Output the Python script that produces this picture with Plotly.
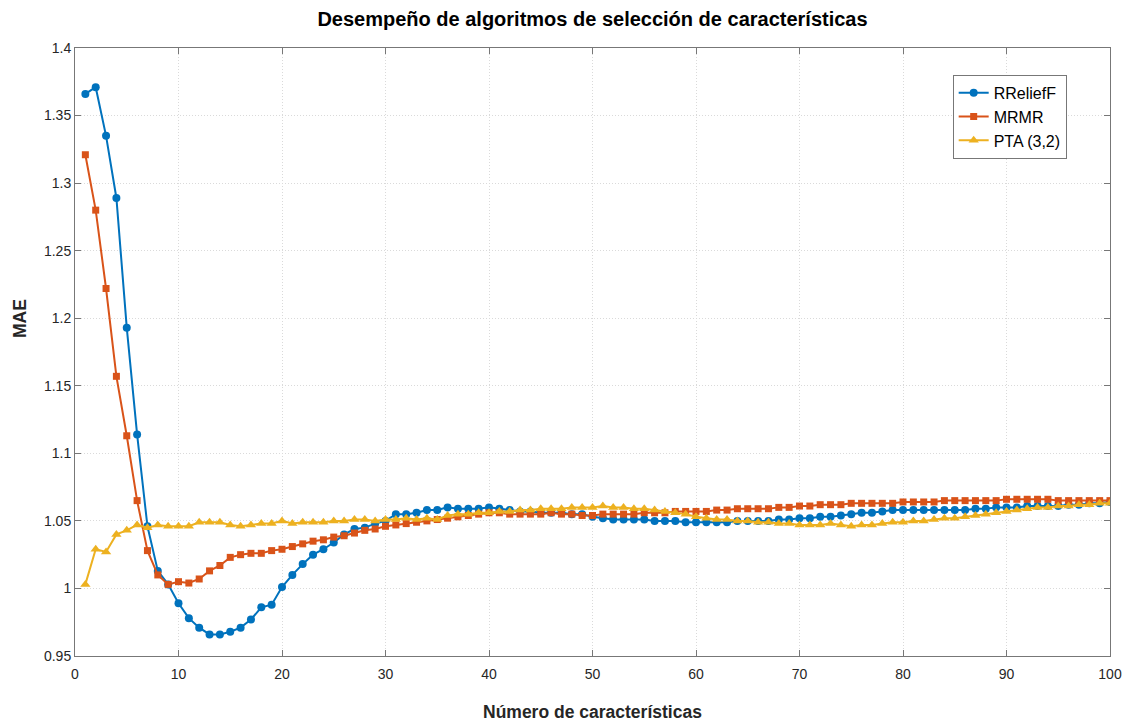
import plotly.graph_objects as go

x_vals = list(range(1, 101))

rrelieff = [
    1.366, 1.371, 1.335, 1.289, 1.193, 1.114, 1.046, 1.013, 1.003, 0.989,
    0.978, 0.971, 0.966, 0.966, 0.968, 0.971, 0.977, 0.986, 0.988, 1.001,
    1.010, 1.018, 1.025, 1.029, 1.034, 1.040, 1.044, 1.045, 1.048, 1.050,
    1.055, 1.055, 1.056, 1.058, 1.058, 1.060, 1.059, 1.059, 1.059, 1.060,
    1.059, 1.058, 1.057, 1.057, 1.056, 1.056, 1.056, 1.055, 1.055, 1.053,
    1.052, 1.051, 1.051, 1.051, 1.051, 1.050, 1.050, 1.050, 1.049, 1.049,
    1.049, 1.049, 1.049, 1.050, 1.050, 1.050, 1.050, 1.051, 1.051, 1.052,
    1.052, 1.053, 1.053, 1.054, 1.055, 1.056, 1.056, 1.057, 1.058, 1.058,
    1.058, 1.058, 1.058, 1.058, 1.058, 1.058, 1.059, 1.059, 1.060, 1.060,
    1.060, 1.061, 1.061, 1.061, 1.061, 1.062, 1.062, 1.063, 1.063, 1.064,
]

mrmr = [
    1.321, 1.280, 1.222, 1.157, 1.113, 1.065, 1.028, 1.010, 1.003, 1.005,
    1.004, 1.007, 1.013, 1.017, 1.023, 1.025, 1.026, 1.026, 1.028, 1.029,
    1.031, 1.033, 1.035, 1.036, 1.038, 1.039, 1.041, 1.043, 1.044, 1.046,
    1.047, 1.048, 1.049, 1.050, 1.051, 1.052, 1.053, 1.054, 1.055, 1.056,
    1.056, 1.055, 1.055, 1.055, 1.055, 1.056, 1.055, 1.055, 1.054, 1.054,
    1.055, 1.055, 1.055, 1.055, 1.056, 1.056, 1.056, 1.057, 1.057, 1.057,
    1.057, 1.058, 1.058, 1.059, 1.059, 1.059, 1.059, 1.060, 1.060, 1.061,
    1.061, 1.062, 1.062, 1.062, 1.063, 1.063, 1.063, 1.063, 1.063, 1.064,
    1.064, 1.064, 1.064, 1.065, 1.065, 1.065, 1.065, 1.065, 1.065, 1.066,
    1.066, 1.066, 1.066, 1.066, 1.065, 1.065, 1.065, 1.065, 1.065, 1.065,
]

pta = [
    1.003, 1.029, 1.027, 1.040, 1.043, 1.047, 1.045, 1.047, 1.046, 1.046,
    1.046, 1.049, 1.049, 1.049, 1.047, 1.046, 1.047, 1.048, 1.048, 1.050,
    1.048, 1.049, 1.049, 1.049, 1.050, 1.050, 1.051, 1.051, 1.050, 1.051,
    1.051, 1.052, 1.051, 1.052, 1.051, 1.054, 1.055, 1.055, 1.056, 1.056,
    1.057, 1.057, 1.058, 1.058, 1.059, 1.059, 1.059, 1.060, 1.060, 1.060,
    1.061, 1.060, 1.060, 1.059, 1.059, 1.058, 1.057, 1.056, 1.055, 1.053,
    1.052, 1.051, 1.051, 1.050, 1.050, 1.049, 1.049, 1.048, 1.048, 1.047,
    1.047, 1.047, 1.048, 1.047, 1.046, 1.047, 1.047, 1.048, 1.049, 1.049,
    1.050, 1.050, 1.051, 1.052, 1.052, 1.053, 1.054, 1.055, 1.056, 1.057,
    1.058, 1.059, 1.060, 1.060, 1.061, 1.061, 1.062, 1.062, 1.063, 1.063,
]

series_names = ["RReliefF", "MRMR", "PTA (3,2)"]
x_ticks = [0, 10, 20, 30, 40, 50, 60, 70, 80, 90, 100]
y_ticks = [0.95, 1.0, 1.05, 1.1, 1.15, 1.2, 1.25, 1.3, 1.35, 1.4]
y_tick_text = ["0.95", "1", "1.05", "1.1", "1.15", "1.2", "1.25", "1.3", "1.35", "1.4"]

colors = ["#0072BD", "#D95319", "#EDB120"]
symbols = ["circle", "square", "triangle-up"]
sizes = [8, 7, 9]

fig = go.Figure()
for name, ys, c, s, sz in zip(series_names, [rrelieff, mrmr, pta], colors, symbols, sizes):
    fig.add_trace(go.Scatter(
        x=x_vals, y=ys, name=name, mode="lines+markers",
        line=dict(color=c, width=2),
        marker=dict(color=c, symbol=s, size=sz, line=dict(width=0)),
    ))

axis_common = dict(
    showline=True, linecolor="#777777", linewidth=1, mirror="allticks",
    ticks="inside", ticklen=6, tickcolor="#777777",
    showgrid=True, gridcolor="#dadada", griddash="1px,2px", gridwidth=1,
    zeroline=False, automargin=False,
    tickfont=dict(family="Liberation Sans, Arial", size=14, color="#262626"),
)

fig.update_xaxes(
    range=[0, 100], tickvals=x_ticks, ticklabelstandoff=5,
    **axis_common,
)
fig.update_yaxes(
    range=[0.95, 1.4], tickvals=y_ticks, ticktext=y_tick_text,
    **axis_common,
)

fig.add_annotation(
    text="<b>MAE</b>", xref="paper", yref="paper",
    x=(20 - 75) / 1035, y=1 - (319 - 48) / 608, xanchor="center", yanchor="middle",
    textangle=-90, showarrow=False,
    font=dict(family="Liberation Sans, Arial", size=17.5, color="#262626"),
)
fig.add_annotation(
    text="<b>Número de características</b>", xref="paper", yref="paper",
    x=0.5, y=-(712 - 656) / 608, xanchor="center", yanchor="middle",
    showarrow=False,
    font=dict(family="Liberation Sans, Arial", size=17.5, color="#262626"),
)

fig.update_layout(
    width=1131, height=723,
    margin=dict(l=75, r=21, t=48, b=67),
    paper_bgcolor="white", plot_bgcolor="white",
    title=dict(text="<b>Desempeño de algoritmos de selección de características</b>",
               x=(75 + 1110) / 2 / 1131, xanchor="center", y=1 - 19 / 723, yanchor="middle",
               font=dict(family="Liberation Sans, Arial", size=20, color="#000000")),
    legend=dict(
        x=0.848, y=0.956, xanchor="left", yanchor="top",
        bordercolor="#777777", borderwidth=1, bgcolor="white",
        font=dict(family="Liberation Sans, Arial", size=16, color="#000000"),
        tracegroupgap=0, itemwidth=30,
    ),
    showlegend=True,
)

fig.write_html("out.html")
